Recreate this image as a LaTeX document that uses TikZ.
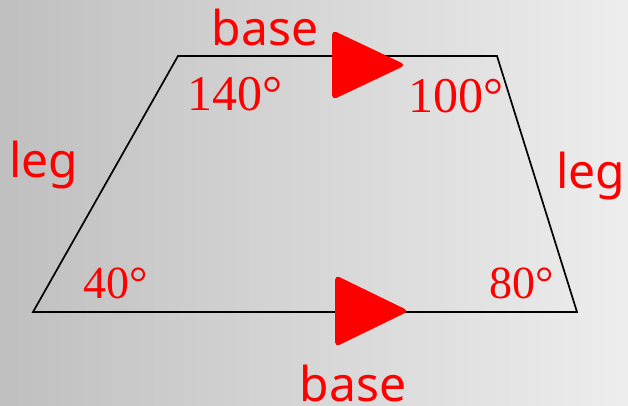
\documentclass[tikz,border=0pt]{standalone}
\usepackage{fontspec}
\newfontfamily\sanslab{Noto Sans}
\newfontfamily\seriflab{Liberation Serif}
\definecolor{lab}{HTML}{FF0000}
\begin{document}
\begin{tikzpicture}[x=1pt,y=-1pt,
  sanstext/.style={text=lab, font=\sanslab\fontsize{48}{52}\selectfont, anchor=base, inner sep=0pt},
  angtext/.style={text=lab, font=\seriflab\fontsize{50}{54}\selectfont, anchor=base, inner sep=0pt},
  angsmall/.style={text=lab, font=\seriflab\fontsize{46}{50}\selectfont, anchor=base, inner sep=0pt},
  side/.style={draw=black, line width=1.7pt, line join=miter},
  arrowmark/.style={fill=lab, rounded corners=5pt}]
\useasboundingbox (0,0) rectangle (628,405);
\shade[left color=black!25, right color=black!7] (0,0) rectangle (628,405);
\coordinate (TL) at (178,56);
\coordinate (TR) at (497,56);
\coordinate (BR) at (577,312);
\coordinate (BL) at (33,312);
\draw[side] (BL) -- (TL) -- (TR) -- (BR) -- cycle;
% arrow marks
\fill[arrowmark] (332,65) -- (332,30) -- (406,65) -- (332,100) -- cycle;
\fill[arrowmark] (335,311) -- (335,275) -- (409,311) -- (335,347) -- cycle;
% labels
\node[sanstext] (basetop) at (265,45) {base};
\node[sanstext] (basebot) at (353,401) {base};
\node[sanstext] (legl) at (44,177) {leg};
\node[sanstext] (legr) at (591,188) {leg};
\node[angtext] (a140) at (235,110) {140°};
\node[angtext] (a100) at (456,112) {100°};
\node[angsmall] (a40) at (116,298) {40°};
\node[angsmall] (a80) at (522,298) {80°};
\end{tikzpicture}
\end{document}
